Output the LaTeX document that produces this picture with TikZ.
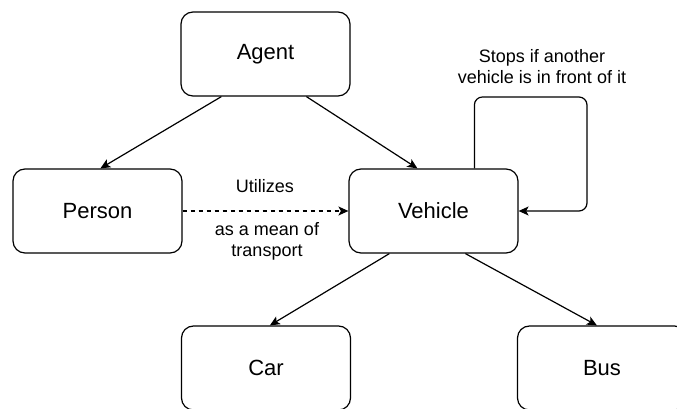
\documentclass[tikz,border=0pt]{standalone}
\usepackage{fontspec}
\setmainfont{Liberation Sans}
\usetikzlibrary{arrows.meta,calc}
\begin{document}
\begin{tikzpicture}[x=1pt,y=-1pt,
  box/.style={draw, line width=1.2pt, rounded corners=12pt, minimum width=169pt,
    minimum height=84pt, inner sep=0pt, font=\fontsize{22}{26}\selectfont},
  link/.style={line width=1.2pt, -{Stealth[length=10pt,width=9pt,inset=2.5pt]}},
  lbl/.style={font=\fontsize{18}{21}\selectfont, align=center}]
  % page frame
  \clip (0,0) rectangle (677,409);
  \fill[white] (0,0) rectangle (677,409);

  % boxes
  \node[box] (agent)   at (265.5,54)  {Agent};
  \node[box] (person)  at (97.5,211)  {Person};
  \node[box] (vehicle) at (433.5,211) {Vehicle};
  \node[box] (car)     at (266,368)   {Car};
  \node[box] (bus)     at (602,368)   {Bus};

  % inheritance-style arrows
  \draw[link] ($(agent.south west)+(41,0)$)   -- ($(person.north west)+(88,0)$);
  \draw[link] ($(agent.south west)+(126,0)$)  -- ($(vehicle.north west)+(69,0)$);
  \draw[link] ($(vehicle.south west)+(41,0)$) -- ($(car.north west)+(89,0)$);
  \draw[link] ($(vehicle.south west)+(117,0)$) -- ($(bus.north west)+(80,0)$);

  % usage relation
  \draw[link, dash pattern=on 4.5pt off 3.5pt] (person.east) -- (vehicle.west);
  \node[lbl] (uses) at (265,186) {Utilizes};
  \node[lbl] (means) at (267,241) {as a mean of\\transport};

  % self loop
  \coordinate (loopcorner) at (587,97);
  \draw[link, rounded corners=8pt] ($(vehicle.north west)+(126,0)$) |- (loopcorner) |- (vehicle.east);
  \node[lbl] (stops) at (542,67) {Stops if another\\vehicle is in front of it};
\end{tikzpicture}
\end{document}
